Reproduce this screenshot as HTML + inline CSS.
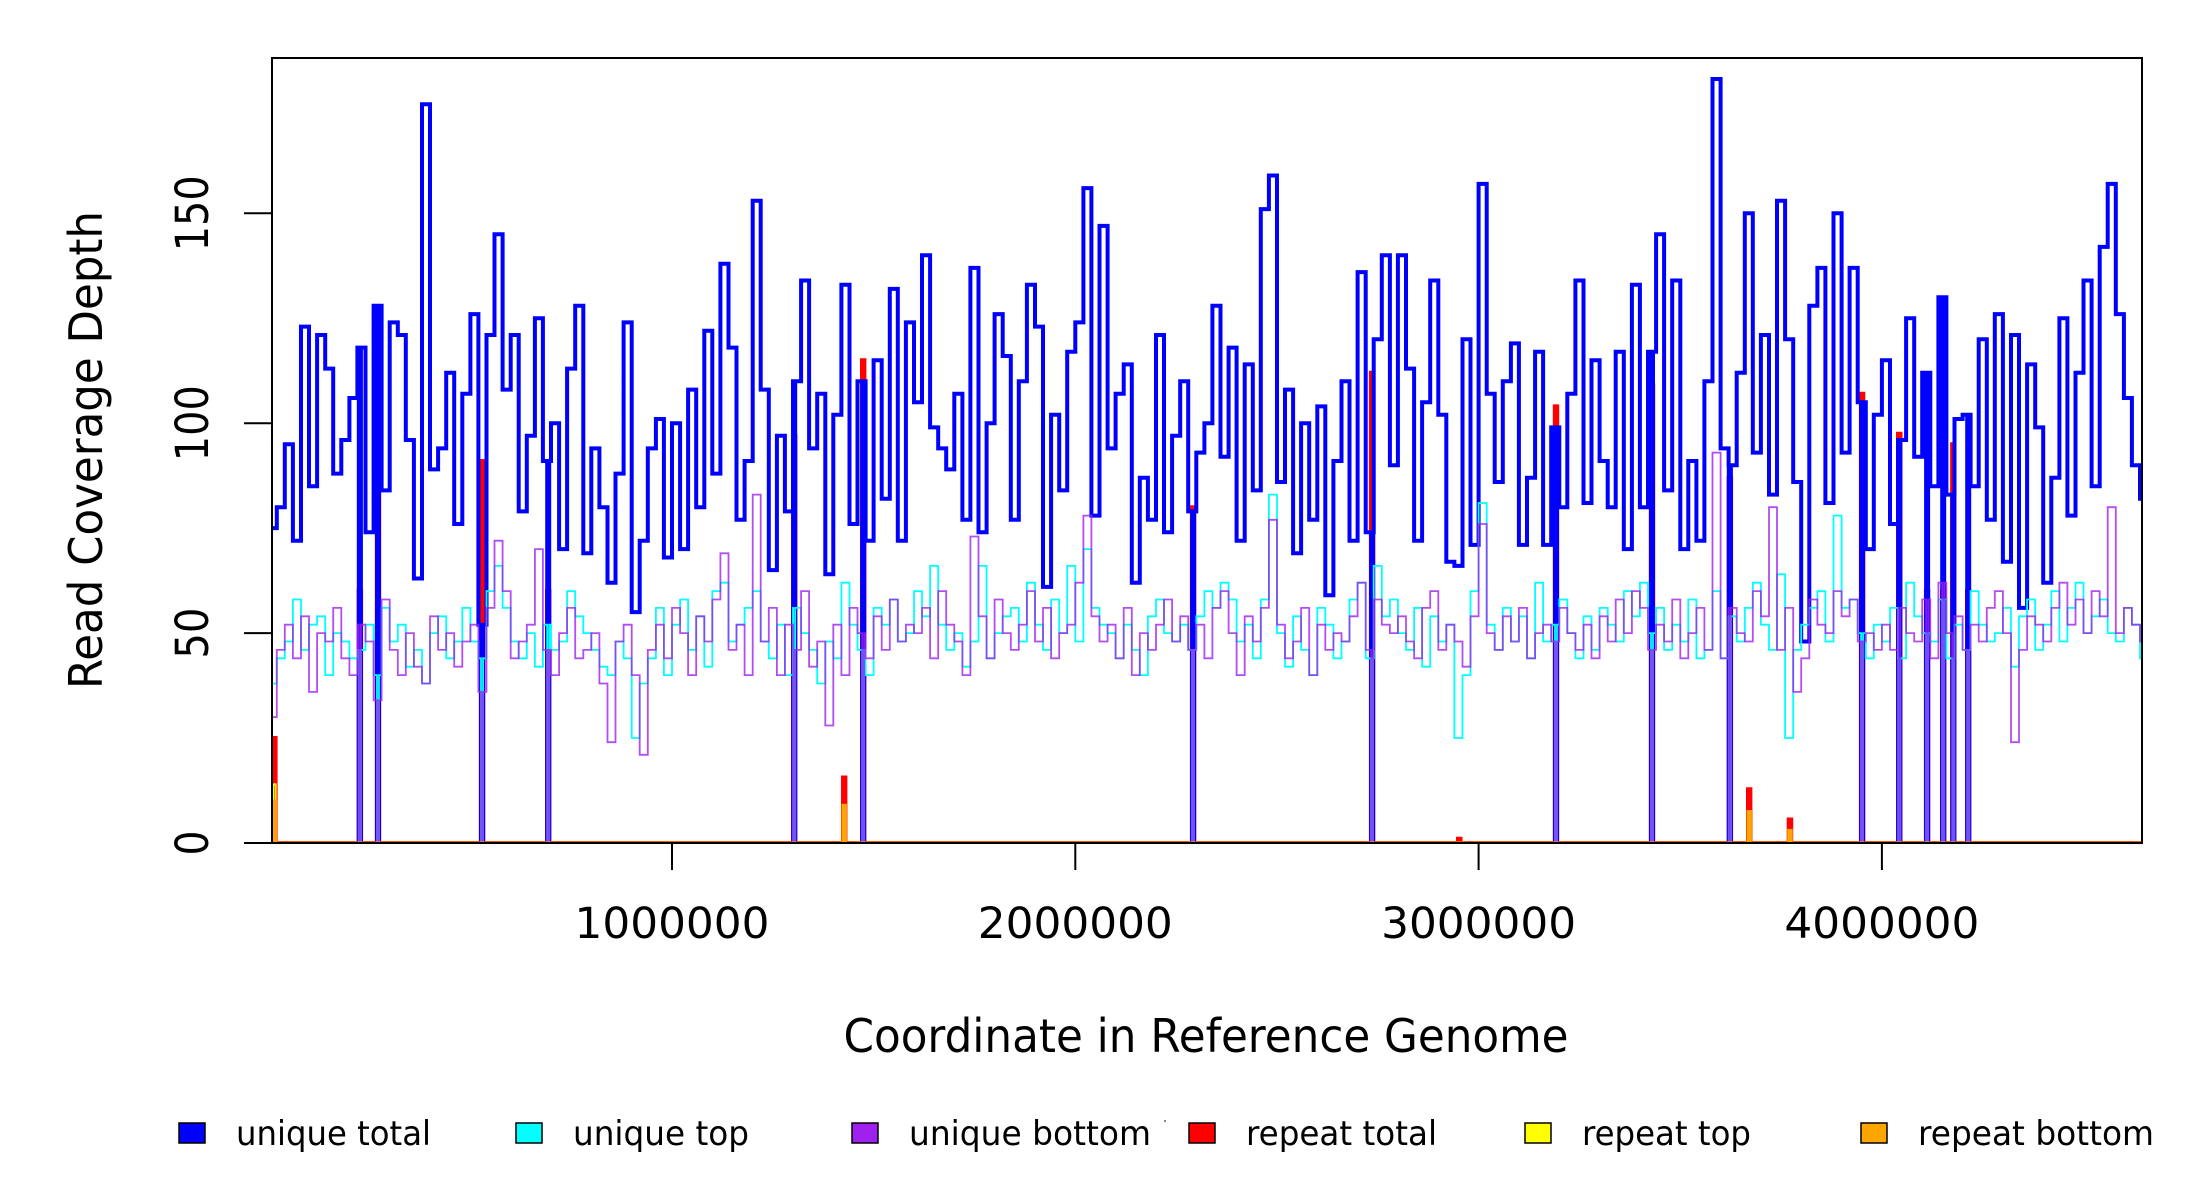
<!DOCTYPE html>
<html><head><meta charset="utf-8"><style>
html,body{margin:0;padding:0;background:#fff;}
svg{display:block;font-family:"DejaVu Sans","Liberation Sans",sans-serif;}
</style></head><body>
<svg id="chart" width="2200" height="1200" viewBox="0 0 2200 1200" xmlns="http://www.w3.org/2000/svg">
<defs><clipPath id="plotclip"><rect x="272" y="58" width="1870" height="786"/></clipPath></defs>
<rect x="0" y="0" width="2200" height="1200" fill="#fff"/>
<g id="series" clip-path="url(#plotclip)"></g>
<rect x="272" y="58" width="1870" height="785" fill="none" stroke="#000" stroke-width="2"/>
<g id="axes"></g>
<text x="1206" y="1052" font-size="46" text-anchor="middle" textLength="725" lengthAdjust="spacingAndGlyphs">Coordinate in Reference Genome</text>
<text transform="translate(102,450) rotate(-90)" font-size="46" text-anchor="middle" textLength="478" lengthAdjust="spacingAndGlyphs">Read Coverage Depth</text>
<g id="legend"></g>
<circle cx="1165" cy="1121" r="1" fill="#666"/>
</svg>
<script>
// ---- data ----
const binWidth = 20000;
const uniqueTotal = [75,80,95,72,123,85,121,113,88,96,106,118,74,128,84,124,121,96,63,176,
89,94,112,76,107,126,52,121,145,108,121,79,97,125,91,100,70,113,128,69,
94,80,62,88,124,55,72,94,101,68,100,70,108,80,122,88,138,118,77,91,
153,108,65,97,79,110,134,94,107,64,102,133,76,110,72,115,82,132,72,124,
105,140,99,94,89,107,77,137,74,100,126,116,77,110,133,123,61,102,84,117,
124,156,78,147,94,107,114,62,87,77,121,74,97,110,79,93,100,128,92,118,
72,114,84,151,159,86,108,69,100,77,104,59,91,110,72,136,74,120,140,90,
140,113,72,105,134,102,67,66,120,71,157,107,86,110,119,71,87,117,71,99,
80,107,134,81,115,91,80,117,70,133,80,117,145,84,134,70,91,72,110,182,
94,90,112,150,93,121,83,153,120,86,48,128,137,81,150,93,137,105,70,102,
115,76,96,125,92,112,85,130,83,101,102,85,120,77,126,67,121,56,114,99,
62,87,125,78,112,134,85,142,157,126,106,90,82];
const uniqueTop = [38,44,48,58,46,52,54,40,50,48,44,46,52,40,56,48,52,42,46,38,
50,54,44,48,56,48,44,60,66,56,48,44,50,42,52,46,48,60,54,50,
46,42,40,48,44,25,38,44,56,40,52,58,46,54,42,60,62,48,52,56,
60,48,44,52,40,56,50,46,38,48,44,62,52,46,40,56,52,58,48,50,
60,54,66,52,46,50,42,48,66,44,50,54,56,48,62,52,46,58,50,66,
48,70,56,52,50,44,52,46,40,54,58,50,48,52,46,54,60,56,62,58,
48,52,44,58,83,50,42,54,46,40,56,52,44,48,58,62,44,66,54,58,
50,46,56,42,54,48,52,25,40,60,81,52,46,56,48,54,44,62,48,52,
58,50,44,54,46,56,52,48,60,54,62,50,56,46,52,48,58,44,46,60,
44,54,48,56,62,52,46,64,25,46,52,56,60,48,78,56,58,50,44,52,
48,56,44,62,54,50,48,58,44,52,46,60,52,48,50,56,42,54,58,46,
52,60,48,56,62,50,54,58,50,48,56,52,44];
const uniqueBottom = [30,46,52,44,54,36,50,48,56,44,40,52,48,34,58,46,40,50,42,38,
54,46,50,42,48,52,36,56,72,60,44,48,52,70,46,40,50,56,44,46,
50,38,24,48,52,40,21,46,52,44,56,50,40,54,48,58,69,46,52,40,
83,48,56,40,52,46,60,42,48,28,52,40,56,50,44,54,46,58,48,52,
50,56,44,60,52,48,40,73,54,44,58,50,46,52,60,48,56,44,50,52,
62,78,54,48,52,44,56,40,50,46,52,58,48,54,46,52,44,56,60,50,
40,54,48,56,77,52,44,48,56,40,52,46,50,48,54,62,46,58,52,50,
54,48,44,56,60,46,52,48,42,54,76,50,46,54,48,56,44,50,52,48,
56,50,46,52,44,54,48,58,50,60,56,46,52,48,58,44,50,56,46,93,
44,56,50,48,60,54,80,46,56,36,44,58,52,50,60,54,58,48,50,46,
52,46,56,50,48,58,44,62,50,54,46,52,48,56,60,50,24,46,54,52,
48,56,62,52,58,50,60,54,80,50,56,52,48];
// positions where unique coverage drops to zero
const gapPositions = [226000,271000,529000,693000,1303000,1474000,2292000,2736000,3192000,3430000,3623000,3951000,4043000,4112000,4152000,4177000,4214000];
// repeat regions
const repeatPositions = [14000,226000,271000,529000,693000,1303000,1427000,1474000,2292000,2736000,2952000,3192000,3430000,3623000,3671000,3772000,3951000,4043000,4112000,4152000,4177000,4214000];
const repeatTotal  = [25,60,112,91,60,97,15.6,115,80,112,1,104,109,87,12.8,5.6,107,97.5,60,60,95,60];
const repeatTop    = [14,0,0,0,0,0,9,0,0,0,0,0,0,0,7,3,0,0,0,0,0,0];
const repeatBottom = [10,0,0,0,0,0,9,0,0,0,0,0,0,0,7.5,3,0,0,0,0,0,0];
const xTicks = [1000000,2000000,3000000,4000000];
const xTickLabels = ["1000000","2000000","3000000","4000000"];
const yTicks = [0,50,100,150];
const yTickLabels = ["0","50","100","150"];
const legendLabels = ["unique total","unique top","unique bottom","repeat total","repeat top","repeat bottom"];
const legendColors = ["#0000ff","#00ffff","#a020f0","#ff0000","#ffff00","#ffa500"];

// ---- scales ----
const NS = "http://www.w3.org/2000/svg";
const X0 = 268.7, XS = 403.3e-6, Y0 = 843, YS = 4.198;
function xs(c){ return X0 + c*XS; }
function ys(v){ return Y0 - v*YS; }
const XMAX = 4650000;

function makeSegments(values, overrides){
  let pts = new Set([0, XMAX]);
  values.forEach((v,i)=>{ pts.add(i*binWidth); pts.add(Math.min((i+1)*binWidth, XMAX)); });
  overrides.forEach(o=>{ pts.add(o[0]); pts.add(o[1]); });
  const arr = [...pts].filter(p=>p>=0 && p<=XMAX).sort((a,b)=>a-b);
  const segs = [];
  for (let k=0;k<arr.length-1;k++){
    const a=arr[k], b=arr[k+1]; if (b<=a) continue;
    const m=(a+b)/2;
    let v = values.length ? (values[Math.floor(m/binWidth)] || 0) : 0;
    overrides.forEach(o=>{ if (m>o[0] && m<o[1]) v=o[2]; });
    segs.push([a,b,v]);
  }
  return segs;
}
function pathFrom(segs){
  let d = "M"+xs(segs[0][0]).toFixed(1)+","+ys(segs[0][2]).toFixed(1);
  segs.forEach((s,i)=>{
    if (i>0) d += "V"+ys(s[2]).toFixed(1);
    d += "H"+xs(s[1]).toFixed(1);
  });
  return d;
}
const gapW = 5000, repW = 6000;
const gapOv = gapPositions.map(g=>[g-gapW/2, g+gapW/2, 0]);
function repOv(vals){ return repeatPositions.map((p,i)=>[p-repW/2, p+repW/2, vals[i]]).filter(o=>o[2]>0); }

const g = document.getElementById("series");
function addPath(d, color, w, name, op){
  const p = document.createElementNS(NS,"path");
  p.setAttribute("d", d);
  p.setAttribute("fill","none");
  p.setAttribute("stroke", color);
  p.setAttribute("stroke-width", w);
  if (op) p.setAttribute("stroke-opacity", op);
  
  
  g.appendChild(p);
}
addPath(pathFrom(makeSegments([], repOv(repeatTotal))), "#ff0000", 4, "series-repeat-total");
addPath(pathFrom(makeSegments(uniqueTotal, gapOv)), "#0000ff", 4, "series-unique-total");
addPath(pathFrom(makeSegments(uniqueTop, gapOv)), "#00ffff", 1.8, "series-unique-top");
addPath(pathFrom(makeSegments(uniqueBottom, gapOv)), "#a020f0", 1.8, "series-unique-bottom", 0.8);
addPath(pathFrom(makeSegments([], repOv(repeatTop))), "#ffff00", 2, "series-repeat-top");
addPath(pathFrom(makeSegments([], repOv(repeatBottom))), "#ffa500", 3, "series-repeat-bottom");

// ---- axes ----
const ax = document.getElementById("axes");
function line(x1,y1,x2,y2,name){
  const l=document.createElementNS(NS,"line");
  l.setAttribute("x1",x1);l.setAttribute("y1",y1);l.setAttribute("x2",x2);l.setAttribute("y2",y2);
  l.setAttribute("stroke","#000");l.setAttribute("stroke-width","2");
  
  
  ax.appendChild(l);
}
xTicks.forEach((t,i)=>{
  const x = xs(t);
  line(x,843,x,870,"x-tick");
  const tx=document.createElementNS(NS,"text");
  tx.setAttribute("x",x);tx.setAttribute("y",938);tx.setAttribute("font-size","43");
  tx.setAttribute("text-anchor","middle");
  tx.setAttribute("textLength","195");tx.setAttribute("lengthAdjust","spacingAndGlyphs");
  tx.textContent = xTickLabels[i];
  
  
  ax.appendChild(tx);
});
const yLens = {1:25,2:51,3:76};
yTicks.forEach((t,i)=>{
  const y = ys(t);
  line(244,y,272,y,"y-tick");
  const tx=document.createElementNS(NS,"text");
  tx.setAttribute("transform","translate(208,"+y+") rotate(-90)");
  tx.setAttribute("font-size","45");tx.setAttribute("text-anchor","middle");
  tx.setAttribute("textLength", yLens[yTickLabels[i].length]);
  tx.setAttribute("lengthAdjust","spacingAndGlyphs");
  tx.textContent = yTickLabels[i];
  
  
  ax.appendChild(tx);
});

// ---- legend ----
const lg = document.getElementById("legend");
const legX = [179,516,852,1189,1525,1861];
const legLen = [195,176,242,191,169,236];
legendLabels.forEach((lab,i)=>{
  const r=document.createElementNS(NS,"rect");
  r.setAttribute("x",legX[i]);r.setAttribute("y",1123);r.setAttribute("width",26);r.setAttribute("height",20);
  r.setAttribute("fill",legendColors[i]);r.setAttribute("stroke","#000");r.setAttribute("stroke-width","1.5");
  
  
  lg.appendChild(r);
  const tx=document.createElementNS(NS,"text");
  tx.setAttribute("x",legX[i]+57);tx.setAttribute("y",1145);tx.setAttribute("font-size","34");
  tx.setAttribute("textLength",legLen[i]);tx.setAttribute("lengthAdjust","spacingAndGlyphs");
  tx.textContent = lab;
  
  
  lg.appendChild(tx);
});
</script>
</body></html>
